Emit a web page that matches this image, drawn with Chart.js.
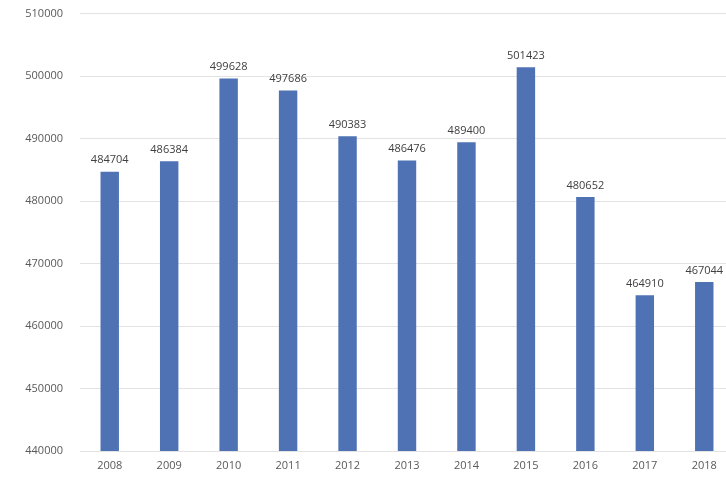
<!DOCTYPE html>
<html>
<head>
<meta charset="utf-8">
<script src="https://cdn.jsdelivr.net/npm/chart.js@4.4.0/dist/chart.umd.min.js"></script>
<style>
    html, body { margin: 0; padding: 0; background: #fff; overflow: hidden; }
    #wrap { position: absolute; left: 0; top: -10px; width: 734px; height: 491px; }
</style>
</head>
<body>
<div id="wrap"><canvas id="barChart"></canvas></div>
<script>
// ═══ 연도별 막대 차트 ═══
const years  = ['2008', '2009', '2010', '2011', '2012', '2013', '2014', '2015', '2016', '2017', '2018'];
const values = [484704, 486384, 499628, 497686, 490383, 486476, 489400, 501423, 480652, 464910, 467044];
const yTicks = [440000, 450000, 460000, 470000, 480000, 490000, 500000, 510000];

// 막대 위에 값 표시
const valueLabels = {
    id: 'valueLabels',
    afterDatasetsDraw(chart) {
        const ctx  = chart.ctx;
        const meta = chart.getDatasetMeta(0);
        ctx.save();
        ctx.font = '11px "Open Sans", sans-serif';
        ctx.fillStyle = '#404040';
        ctx.textAlign = 'center';
        ctx.textBaseline = 'bottom';
        meta.data.forEach((bar, i) => {
            ctx.fillText(String(values[i]), bar.x, bar.y - 6);
        });
        ctx.restore();
    }
};

new Chart(document.getElementById('barChart').getContext('2d'), {
    type: 'bar',
    data: {
        labels: years,
        datasets: [{
            data: values,
            backgroundColor: '#4f72b5',
            borderWidth: 0,
            barPercentage: 0.31,
            categoryPercentage: 1
        }]
    },
    options: {
        responsive: true,
        maintainAspectRatio: false,
        animation: false,
        layout: { padding: { top: 3, right: 0, left: 0, bottom: 0 } },
        plugins: {
            legend: { display: false },
            tooltip: { enabled: false }
        },
        scales: {
            x: {
                grid: { display: false, drawTicks: false },
                border: { display: false },
                ticks: { color: '#595959', font: { family: 'Open Sans', size: 11 }, padding: 8, maxRotation: 0 },
                afterFit(scale) { scale.height = 30; }
            },
            y: {
                min: yTicks[0],
                max: yTicks[yTicks.length - 1],
                afterBuildTicks(scale) { scale.ticks = yTicks.map(v => ({ value: v })); },
                grid: { color: '#e3e3e3', drawTicks: false },
                border: { display: false },
                ticks: {
                    color: '#595959',
                    font: { family: 'Open Sans', size: 11 },
                    padding: 17,
                    callback: v => String(v)
                },
                afterFit(scale) { scale.width = 80; }
            }
        }
    },
    plugins: [valueLabels]
});
</script>
</body>
</html>
